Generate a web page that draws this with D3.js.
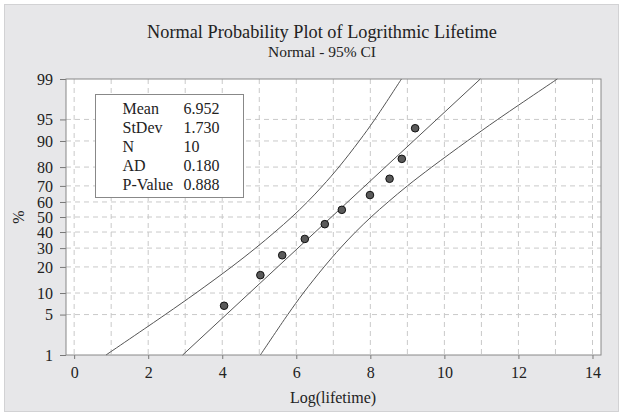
<!DOCTYPE html>
<html lang="en">
<head>
<meta charset="utf-8">
<script src="https://d3js.org/d3.v7.min.js"></script>
<style type="text/css">
body { margin: 0; background: #fff; }
text { font-family: "Liberation Serif", "Times New Roman", serif; fill: #222; }
</style>
</head>
<body>
<script type="text/javascript">

// percent ticks on the probability axis
const pctTicks = [1, 5, 10, 20, 30, 40, 50, 60, 70, 80, 90, 95, 99]
const xTicks = [0, 2, 4, 6, 8, 10, 12, 14]

// observed log(lifetime) values and their plotted percents (median ranks)
const obsX = [4.05, 5.03, 5.62, 6.23, 6.77, 7.23, 7.99, 8.52, 8.85, 9.21]
const obsPct = [6.73, 16.35, 25.96, 35.58, 45.19, 54.81, 64.42, 74.04, 83.65, 93.27]

// fitted line end points and 95% CI band at each percent tick
const fitX = [2.93, 10.97]
const fitPct = [1, 99]
const lowerX = [0.86, 2.46, 3.29, 4.25, 4.90, 5.42, 5.88, 6.30, 6.71, 7.15, 7.70, 8.12, 8.84]
const upperX = [5.03, 5.77, 6.19, 6.75, 7.19, 7.60, 8.02, 8.48, 9.00, 9.66, 10.62, 11.44, 13.05]

const statLabels = ['Mean', 'StDev', 'N', 'AD', 'P-Value']
const statValues = ['6.952', '1.730', '10', '0.180', '0.888']

const width = 622
const height = 414
const plot = {left: 66, right: 601, top: 79, bottom: 355}

// inverse normal cdf (Acklam) for the probability axis
function probit(p) {
    const a = [-39.69683028665376, 220.9460984245205, -275.9285104469687, 138.3577518672690, -30.66479806614716, 2.506628277459239]
    const b = [-54.47609879822406, 161.5858368580409, -155.6989798598866, 66.80131188771972, -13.28068155288572]
    const c = [-0.007784894002430293, -0.3223964580411365, -2.400758277161838, -2.549732539343734, 4.374664141464968, 2.938163982698783]
    const d = [0.007784695709041462, 0.3224671290700398, 2.445134137142996, 3.754408661907416]
    const pl = 0.02425
    let q, r
    if (p < pl) {
        q = Math.sqrt(-2 * Math.log(p))
        return (((((c[0]*q+c[1])*q+c[2])*q+c[3])*q+c[4])*q+c[5]) / ((((d[0]*q+d[1])*q+d[2])*q+d[3])*q+1)
    }
    if (p > 1 - pl) {
        q = Math.sqrt(-2 * Math.log(1 - p))
        return -(((((c[0]*q+c[1])*q+c[2])*q+c[3])*q+c[4])*q+c[5]) / ((((d[0]*q+d[1])*q+d[2])*q+d[3])*q+1)
    }
    q = p - 0.5
    r = q * q
    return (((((a[0]*r+a[1])*r+a[2])*r+a[3])*r+a[4])*r+a[5])*q / (((((b[0]*r+b[1])*r+b[2])*r+b[3])*r+b[4])*r+1)
}

const x = d3.scaleLinear()
    .domain([-0.22, 14.23])
    .range([plot.left, plot.right])

const zScale = d3.scaleLinear()
    .domain([probit(0.01), probit(0.99)])
    .range([plot.bottom, plot.top])
const y = pct => zScale(probit(pct / 100))

const svg = d3.select('body')
    .append('svg')
    .attr('width', width)
    .attr('height', height)

// outer panel
svg.append('rect')
    .attr('x', 4.5).attr('y', 4.5)
    .attr('width', 614).attr('height', 407)
    .attr('fill', '#e7e7e9')
    .attr('stroke', '#d2d2d4')

// plot area
svg.append('rect')
    .attr('x', plot.left).attr('y', plot.top)
    .attr('width', plot.right - plot.left).attr('height', plot.bottom - plot.top)
    .attr('fill', '#fff')

// grid
svg.append('g')
    .selectAll('line')
    .data(d3.range(0, 15))
    .enter()
    .append('line')
    .attr('x1', d => x(d)).attr('x2', d => x(d))
    .attr('y1', plot.top).attr('y2', plot.bottom)
    .attr('stroke', '#c9c9c9')
    .attr('stroke-dasharray', '5,4')

svg.append('g')
    .selectAll('line')
    .data(pctTicks.slice(1, -1))
    .enter()
    .append('line')
    .attr('x1', plot.left).attr('x2', plot.right)
    .attr('y1', d => y(d)).attr('y2', d => y(d))
    .attr('stroke', '#c9c9c9')
    .attr('stroke-dasharray', '5,4')

// axes
const xAxis = svg.append('g')
    .attr('transform', `translate(0,${plot.bottom})`)
    .call(d3.axisBottom(x).tickValues(xTicks).tickSize(4).tickPadding(8))
const yAxis = svg.append('g')
    .attr('transform', `translate(${plot.left},0)`)
    .call(d3.axisLeft(zScale).tickValues(pctTicks.map(p => probit(p / 100)))
        .tickFormat((d, i) => pctTicks[i]).tickSize(6).tickPadding(7))

;[xAxis, yAxis].forEach(g => {
    g.select('.domain').remove()
    g.selectAll('line').attr('stroke', '#777')
    g.selectAll('text')
        .style('font-family', '"Liberation Serif", serif')
        .style('font-size', '16px')
        .attr('fill', '#222')
})

// plot frame
svg.append('rect')
    .attr('x', plot.left).attr('y', plot.top)
    .attr('width', plot.right - plot.left).attr('height', plot.bottom - plot.top)
    .attr('fill', 'none')
    .attr('stroke', '#888')

// fit line and CI band
const lineGen = d3.line()
    .x(d => x(d[0]))
    .y(d => y(d[1]))

svg.append('path')
    .attr('d', lineGen(fitX.map((v, i) => [v, fitPct[i]])))
    .attr('fill', 'none')
    .attr('stroke', '#555')

const curveGen = lineGen.curve(d3.curveCatmullRom)
;[lowerX, upperX].forEach(arr => {
    svg.append('path')
        .attr('d', curveGen(arr.map((v, i) => [v, pctTicks[i]])))
        .attr('fill', 'none')
        .attr('stroke', '#555')
})

// observations
svg.append('g')
    .selectAll('circle')
    .data(obsX)
    .enter()
    .append('circle')
    .attr('cx', d => x(d))
    .attr('cy', (d, i) => y(obsPct[i]))
    .attr('r', 3.8)
    .attr('fill', '#5a5a5a')
    .attr('stroke', '#111')
    .attr('stroke-width', 1)

// statistics box
const box = svg.append('g')
box.append('rect')
    .attr('x', 95.5).attr('y', 94.5)
    .attr('width', 148).attr('height', 103)
    .attr('fill', '#fff')
    .attr('stroke', '#888')
box.selectAll('text.lab')
    .data(statLabels)
    .enter()
    .append('text')
    .attr('class', 'lab')
    .attr('x', 122.5)
    .attr('y', (d, i) => 113.5 + i * 19.2)
    .style('font-size', '16px')
    .text(d => d)
box.selectAll('text.val')
    .data(statValues)
    .enter()
    .append('text')
    .attr('class', 'val')
    .attr('x', 183.5)
    .attr('y', (d, i) => 113.5 + i * 19.2)
    .style('font-size', '16px')
    .text(d => d)

// titles
svg.append('text')
    .attr('x', 322).attr('y', 38)
    .attr('text-anchor', 'middle')
    .style('font-size', '18.3px')
    .text('Normal Probability Plot of Logrithmic Lifetime')
svg.append('text')
    .attr('x', 322).attr('y', 57)
    .attr('text-anchor', 'middle')
    .style('font-size', '15.5px')
    .text('Normal - 95% CI')

svg.append('text')
    .attr('x', 333).attr('y', 403)
    .attr('text-anchor', 'middle')
    .style('font-size', '16px')
    .text('Log(lifetime)')

svg.append('text')
    .attr('transform', 'translate(24,217) rotate(-90)')
    .attr('text-anchor', 'middle')
    .style('font-size', '16px')
    .text('%')

</script>
</body>
</html>
